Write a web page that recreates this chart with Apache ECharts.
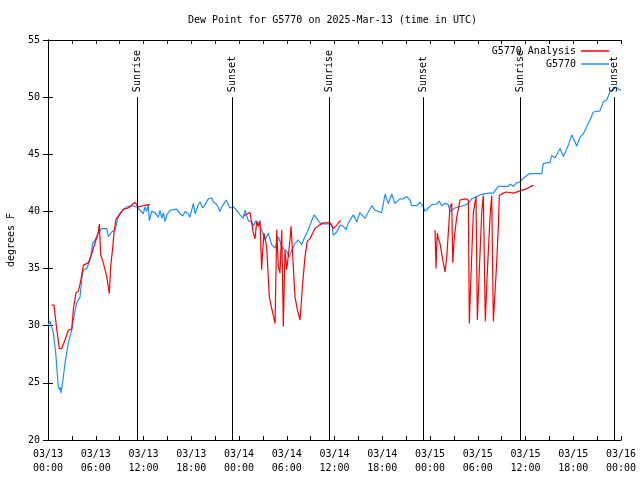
<!DOCTYPE html>
<html>
<head>
<meta charset="utf-8">
<script src="https://cdn.jsdelivr.net/npm/echarts@6/dist/echarts.min.js"></script>
<style>html,body{margin:0;padding:0;background:#fff}#c{width:640px;height:480px}</style>
</head>
<body>
<div id="c"></div>
<script>
// hours since 2025-03-13 00:00 UTC
const obsHours = [0.00,0.25,0.44,0.67,0.97,1.29,1.45,1.57,1.63,1.85,2.14,2.55,2.98,3.18,3.61,4.02,4.23,4.44,4.86,5.28,5.62,5.91,6.32,6.75,7.38,7.58,8.00,8.42,8.83,9.26,9.89,10.52,11.15,
  11.56,11.98,12.19,12.40,12.60,12.73,13.03,13.45,13.86,14.07,14.29,14.49,14.70,14.92,15.33,16.17,16.59,16.93,17.22,17.63,17.84,18.26,18.47,18.89,19.10,19.44,19.73,20.14,20.57,20.77,21.20,21.61,21.83,22.03,22.37,22.66,22.87,23.29,23.71,23.92,
  24.13,24.54,24.76,25.17,25.60,25.80,26.14,26.43,26.85,27.27,27.68,28.11,28.53,28.94,29.37,30.00,30.32,30.62,31.04,31.45,31.88,32.29,32.71,33.14,33.43,33.77,34.18,34.59,35.65,35.85,36.28,36.69,37.11,37.45,37.74,38.36,38.79,39.20,39.83,40.68,41.09,41.93,42.35,42.76,43.19,43.60,44.23,44.65,45.07,45.49,45.70,46.33,46.75,47.16,47.37,47.79,48.22,48.84,49.17,49.47,49.89,50.30,50.51,51.14,51.56,52.19,52.82,53.24,53.87,54.50,55.33,55.96,56.59,57.84,58.06,58.47,58.90,59.31,59.73,60.48,62.04,62.24,63.08,63.30,63.71,64.34,64.76,65.38,65.81,66.22,66.44,66.85,67.27,67.70,68.11,68.52,69.36,69.78,70.21,70.62,70.96,71.37,71.66,72.00];
const obsValues = [30.0,30.4,30.4,29.4,27.6,24.7,24.4,24.6,24.1,25.1,26.7,28.5,29.6,30.5,32.0,32.5,34.0,34.9,35.0,35.7,37.2,37.5,38.1,38.5,38.5,37.8,38.2,38.4,39.5,40.0,40.4,40.5,40.4,
  40.1,39.8,40.4,40.0,40.6,39.2,40.0,39.9,39.5,40.1,39.4,39.9,39.1,39.7,40.1,40.2,39.8,39.6,40.0,39.8,39.5,40.7,39.8,40.6,40.85,40.3,40.6,41.1,41.2,40.85,40.6,40.0,40.4,40.6,41.0,40.6,40.3,40.4,40.1,40.2,
  39.7,39.4,40.1,39.2,39.1,38.7,39.2,39.0,38.4,37.5,38.1,37.1,36.8,37.8,36.9,36.5,36.0,36.6,37.2,37.5,37.1,37.8,38.4,39.2,39.7,39.4,39.0,38.9,38.9,37.9,38.2,38.8,38.7,38.4,39.0,39.7,39.1,39.9,39.4,40.5,40.1,39.9,41.5,40.7,41.5,40.7,41.1,41.1,41.3,41.0,40.5,40.5,40.8,40.4,40.0,40.3,40.6,40.65,40.9,40.5,40.7,40.6,40.0,40.3,40.4,40.5,40.7,41.1,41.3,41.5,41.6,41.6,42.2,42.2,42.4,42.2,42.5,42.6,42.9,43.3,43.3,44.2,44.3,44.9,44.7,45.5,44.8,45.8,46.7,46.1,45.7,46.5,46.8,47.4,48.0,48.7,48.8,49.6,49.75,50.5,50.6,50.9,50.7,50.6];

// analysis series, null marks a gap
const anaHours = [0.46,0.75,1.01,1.42,1.72,2.14,2.55,2.98,3.18,3.52,3.81,4.11,4.44,5.06,5.49,6.03,6.32,6.45,6.62,6.95,7.38,7.70,7.88,8.13,8.29,8.54,9.05,9.46,10.09,10.93,11.35,11.98,12.82,
  18.0,
  24.54,25.38,25.60,25.80,26.01,26.22,26.43,26.64,26.85,26.98,27.14,27.48,27.81,28.24,28.53,28.74,28.94,29.15,29.37,29.57,29.78,30.00,30.41,30.54,30.75,31.04,31.33,31.67,32.00,32.29,32.58,32.92,33.55,34.09,34.59,35.44,35.85,36.28,36.61,36.78,
  42.0,
  48.63,48.76,48.84,48.92,49.05,49.26,49.47,49.67,49.89,50.10,50.30,50.51,50.73,50.86,51.06,51.36,51.56,51.77,52.40,52.82,52.94,53.16,53.45,53.78,53.95,54.20,54.50,54.70,54.95,55.20,55.54,55.75,55.96,56.38,56.59,56.71,57.21,57.57,58.47,59.31,60.17,61.00];
const anaValues = [31.8,31.8,30.2,28.0,28.0,28.75,29.6,29.7,31.4,32.9,33.0,33.9,35.3,35.5,36.3,37.5,38.2,38.9,36.2,35.5,34.3,32.8,35.2,36.8,38.1,39.3,39.8,40.2,40.3,40.8,40.4,40.5,40.6,
  null,
  39.6,39.9,40.0,38.1,37.6,39.1,38.7,39.2,34.9,36.6,38.1,36.9,32.5,31.1,30.2,38.4,35.2,34.6,38.4,29.9,36.6,34.9,37.5,38.7,38.7,32.5,31.4,30.5,33.7,36.0,37.4,37.6,38.5,38.8,39.0,39.0,38.5,38.8,39.1,39.2,
  null,
  38.4,35.0,36.8,38.1,37.6,37.2,36.3,35.5,34.7,36.0,38.1,40.4,40.7,35.5,37.8,39.5,39.5,41.0,41.1,41.0,30.2,34.6,39.9,41.3,30.5,34.9,39.9,41.4,30.4,34.6,39.5,41.4,30.4,35.5,38.7,41.4,41.6,41.7,41.6,41.8,42.0,42.3];

const eventHours = [11.22, 23.08, 35.35, 47.17, 59.31, 71.17];
const eventNames = ['Sunrise','Sunset','Sunrise','Sunset','Sunrise','Sunset'];

const tickLabels = ['03/13\n00:00','03/13\n06:00','03/13\n12:00','03/13\n18:00','03/14\n00:00','03/14\n06:00','03/14\n12:00','03/14\n18:00','03/15\n00:00','03/15\n06:00','03/15\n12:00','03/15\n18:00','03/16\n00:00'];

const FONT = '"DejaVu Sans Mono", "Liberation Mono", monospace';
const chart = echarts.init(document.getElementById('c'), null, {renderer: 'canvas'});

const xBase = {
  type: 'value', min: 0, max: 72, interval: 6,
  axisLine: {show: true, lineStyle: {color: '#000', width: 1}},
  axisTick: {show: true, inside: true, length: 4, lineStyle: {color: '#000'}},
  minorTick: {show: true, splitNumber: 2, length: 4, lineStyle: {color: '#000'}},
  splitLine: {show: false}
};
const yBase = {
  type: 'value', min: 20, max: 55, interval: 5,
  axisLine: {show: true, lineStyle: {color: '#000', width: 1}},
  axisTick: {show: true, inside: true, length: 5, lineStyle: {color: '#000'}},
  splitLine: {show: false}
};

chart.setOption({
  animation: false,
  backgroundColor: '#fff',
  title: {
    text: 'Dew Point for G5770 on 2025-Mar-13 (time in UTC)',
    left: 183, top: 10,
    textStyle: {fontFamily: FONT, fontSize: 10, fontWeight: 'normal', color: '#000'}
  },
  grid: {left: 48, right: 19, top: 40, bottom: 40, containLabel: false, outerBoundsMode: 'none'},
  legend: {
    data: [{name: 'G5770 Analysis', icon: 'rect'}, {name: 'G5770', icon: 'rect'}],
    orient: 'vertical', right: 26, top: 40, align: 'right',
    itemWidth: 28, itemHeight: 1.5, itemGap: 1,
    textStyle: {fontFamily: FONT, fontSize: 10, color: '#000', lineHeight: 12},
    selectedMode: false
  },
  xAxis: [
    Object.assign({}, xBase, {
      position: 'bottom',
      axisLabel: {
        show: true, fontFamily: FONT, fontSize: 10, color: '#000', lineHeight: 14, margin: 7,
        formatter: v => tickLabels[Math.round(v / 6)] || ''
      }
    }),
    Object.assign({}, xBase, {position: 'top', axisLabel: {show: false}})
  ],
  yAxis: [
    Object.assign({}, yBase, {
      position: 'left',
      name: 'degrees F', nameLocation: 'middle', nameGap: 32,
      nameTextStyle: {fontFamily: FONT, fontSize: 10, color: '#000'},
      axisLabel: {show: true, fontFamily: FONT, fontSize: 10, color: '#000', margin: 8}
    }),
    Object.assign({}, yBase, {position: 'right', axisLabel: {show: false}})
  ],
  series: [
    {
      name: 'G5770', type: 'line', xAxisIndex: 0, yAxisIndex: 0,
      data: obsHours.map((h, i) => [h, obsValues[i]]),
      showSymbol: false, symbol: 'none',
      lineStyle: {color: '#1e90ff', width: 1.2}, itemStyle: {color: '#1e90ff'},
      z: 3
    },
    {
      name: 'G5770 Analysis', type: 'line', xAxisIndex: 0, yAxisIndex: 0,
      data: anaHours.map((h, i) => [h, anaValues[i] === null ? '-' : anaValues[i]]),
      connectNulls: false,
      showSymbol: false, symbol: 'none',
      lineStyle: {color: '#ff0000', width: 1.2}, itemStyle: {color: '#ff0000'},
      z: 4
    },
    {
      name: 'events', type: 'custom', xAxisIndex: 0, yAxisIndex: 0,
      data: eventHours.map(h => [h]),
      encode: {x: 0},
      clip: false,
      z: 5,
      renderItem: function (params, api) {
        const h = api.value(0);
        const p0 = api.coord([h, 20]);
        const p1 = api.coord([h, 50]);
        const x = Math.round(p0[0]) + 0.5;
        return {
          type: 'group',
          children: [
            {type: 'line', shape: {x1: x, y1: p0[1], x2: x, y2: p1[1]},
             style: {stroke: '#000', lineWidth: 1}},
            {type: 'text', x: x, y: p1[1] - 5, rotation: Math.PI / 2,
             style: {text: eventNames[params.dataIndex], fill: '#000',
                     font: '10px ' + FONT, align: 'left', verticalAlign: 'middle'}}
          ]
        };
      }
    }
  ]
});
</script>
</body>
</html>
